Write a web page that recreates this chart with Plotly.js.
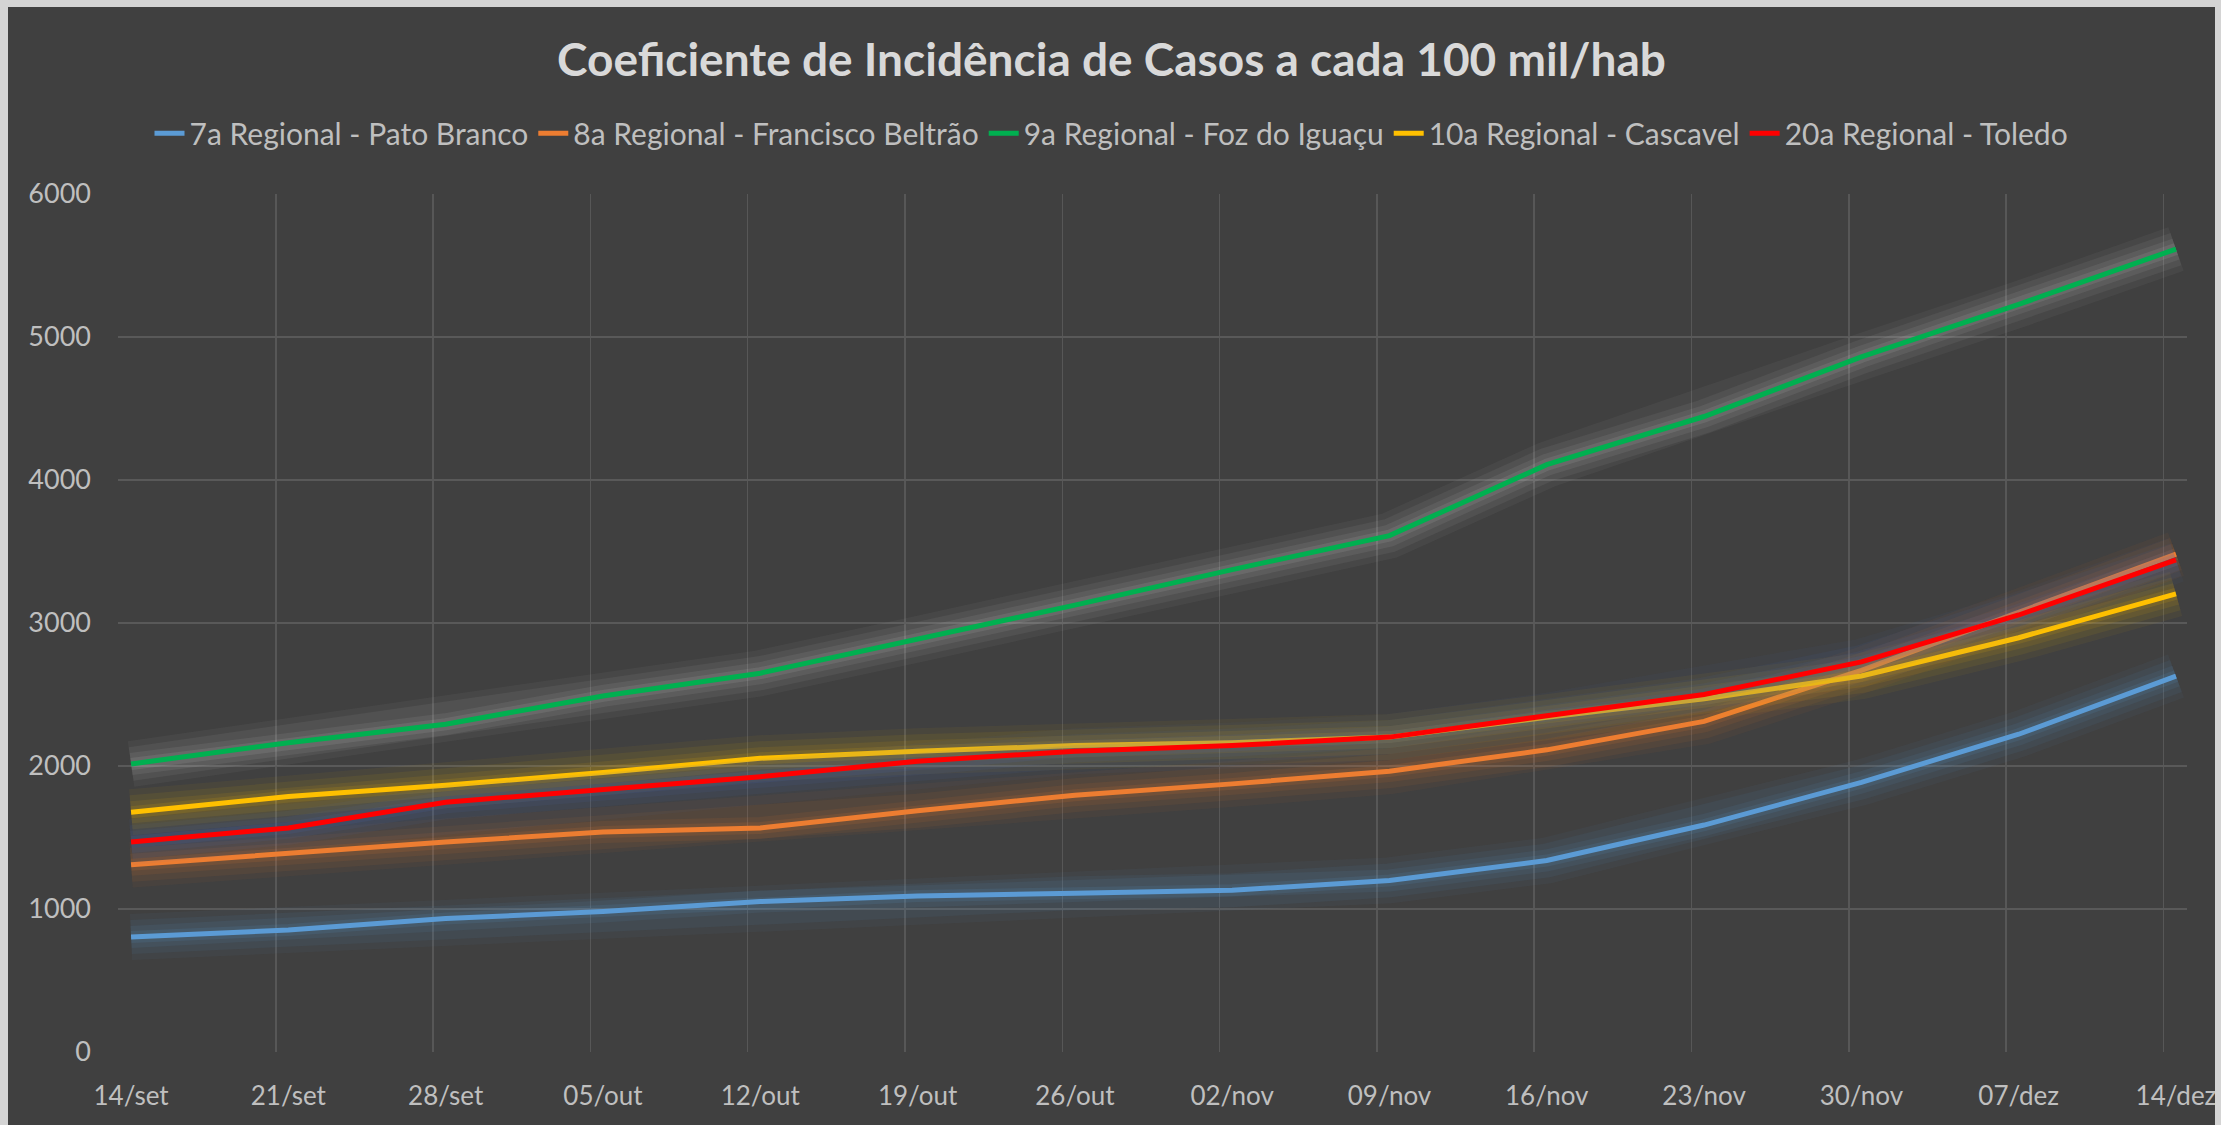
<!DOCTYPE html>
<html>
<head>
<meta charset="utf-8">
<script src="https://cdn.plot.ly/plotly-3.0.1.min.js"></script>
<style>
  html, body { margin: 0; padding: 0; background: #d4d4d4; width: 2221px; height: 1125px; overflow: hidden; }
  #chart { position: absolute; left: 8px; top: 7px; width: 2207px; height: 1118px; overflow: hidden; }
</style>
</head>
<body>
<div id="chart"></div>
<script>
const categories = ['14/set','21/set','28/set','05/out','12/out','19/out','26/out','02/nov','09/nov','16/nov','23/nov','30/nov','07/dez','14/dez'];
const seriesNames = ['7a Regional - Pato Branco','8a Regional - Francisco Beltrão','9a Regional - Foz do Iguaçu','10a Regional - Cascavel','20a Regional - Toledo'];
const patoBranco = [804, 853, 933, 982, 1052, 1091, 1111, 1131, 1200, 1339, 1587, 1885, 2222, 2629];
const franciscoBeltrao = [1310, 1389, 1468, 1538, 1567, 1687, 1796, 1875, 1964, 2113, 2312, 2669, 3075, 3482];
const fozIguacu = [2014, 2163, 2292, 2490, 2649, 2887, 3125, 3373, 3611, 4107, 4444, 4861, 5228, 5615];
const cascavel = [1677, 1786, 1865, 1954, 2054, 2103, 2143, 2163, 2202, 2341, 2470, 2629, 2897, 3204];
const toledo = [1468, 1567, 1746, 1835, 1925, 2034, 2103, 2143, 2202, 2351, 2500, 2728, 3056, 3442];
const yTicks = [0, 1000, 2000, 3000, 4000, 5000, 6000];

const lineColors = ['#5b9bd5', '#ed7d31', '#00b050', '#ffc000', '#ff0000'];
const glowColors = ['#5b9bd5', '#ed7d31', '#d0d0d0', '#ffc000', '#4a6cc0'];
const allSeries = [patoBranco, franciscoBeltrao, fozIguacu, cascavel, toledo];

const glowLayers = [{w: 46, o: 0.05}, {w: 34, o: 0.07}, {w: 22, o: 0.09}, {w: 12, o: 0.12}];

const xIdx = categories.map((_, i) => i);
const traces = [];
allSeries.forEach((vals, s) => {
  glowLayers.forEach(g => {
    traces.push({x: xIdx, y: vals, type: 'scatter', mode: 'lines', showlegend: false, hoverinfo: 'skip',
      line: {color: glowColors[s], width: g.w}, opacity: g.o});
  });
  traces.push({x: xIdx, y: vals, type: 'scatter', mode: 'lines', name: seriesNames[s],
    line: {color: lineColors[s], width: 5}});
});

const layout = {
  width: 2207, height: 1118,
  paper_bgcolor: '#404040', plot_bgcolor: '#404040',
  margin: {l: 110, r: 28, t: 187, b: 73},
  font: {family: 'Lato, "Open Sans", sans-serif', color: '#bfbfbf'},
  title: {text: 'Coeficiente de Incidência de Casos a cada 100 mil/hab',
    font: {family: 'Lato, sans-serif', size: 46, color: '#d9d9d9', weight: 'bold'},
    x: 0.5, xanchor: 'center', xref: 'container', y: 0.953, yanchor: 'middle', yref: 'container'},
  showlegend: true,
  legend: {orientation: 'h', xref: 'container', x: 0.5, xanchor: 'center', yref: 'container', y: 0.887, yanchor: 'middle',
    font: {size: 30, color: '#bfbfbf'}, bgcolor: 'rgba(0,0,0,0)', itemwidth: 30, traceorder: 'normal'},
  xaxis: {
    range: [-0.083, 13.07], tickmode: 'array', tickvals: xIdx, ticktext: categories,
    showgrid: false, zeroline: false, showline: false, ticks: '', ticklabeloverflow: 'allow',
    tickfont: {size: 26, color: '#bfbfbf'}, ticklabelstandoff: 26,
    minor: {tick0: -0.08, dtick: 1, showgrid: true, gridcolor: '#575757', gridwidth: 1.5, ticks: ''}
  },
  yaxis: {
    range: [0, 6000], tickmode: 'array', tickvals: yTicks,
    showgrid: true, gridcolor: '#595959', gridwidth: 2, zeroline: false, showline: false, ticks: '',
    tickfont: {size: 27, color: '#bfbfbf'}, ticklabelstandoff: 26
  },
  hovermode: false
};

Plotly.newPlot('chart', traces, layout, {displayModeBar: false, staticPlot: true});
</script>
</body>
</html>
